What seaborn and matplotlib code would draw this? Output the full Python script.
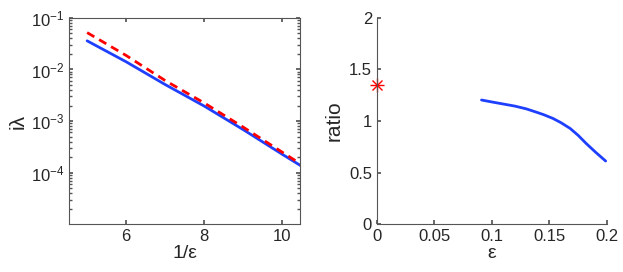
import numpy as np
import pandas as pd
import matplotlib
matplotlib.use("Agg")
import matplotlib.pyplot as plt
import seaborn as sns
from matplotlib.ticker import LogLocator, FixedLocator, NullFormatter

sns.set_theme(style="white")
plt.rcParams['font.family'] = ['Liberation Sans', 'DejaVu Sans']
plt.rcParams['mathtext.fontset'] = 'custom'
plt.rcParams['mathtext.rm'] = 'Liberation Sans'
plt.rcParams['mathtext.it'] = 'Liberation Sans'

# Left panel data
inv_eps = [5, 6, 7, 8, 9, 10, 10.5]
lam_num = [0.036, 0.0141, 0.0051, 0.00195, 6.8e-4, 2.26e-4, 1.32e-4]
lam_asym = [0.052, 0.0187, 0.0061, 0.00224, 7.6e-4, 2.48e-4, 1.42e-4]

# Right panel data
eps = [0.091, 0.100, 0.110, 0.120, 0.130, 0.139, 0.145, 0.153, 0.160, 0.168,
       0.175, 0.182, 0.190, 0.199]
ratio = [1.204, 1.185, 1.165, 1.145, 1.118, 1.085, 1.062, 1.026, 0.985, 0.929,
         0.862, 0.783, 0.700, 0.612]
star_eps = [0.0]
star_ratio = [1.35]

blue = '#1f3fff'
red = '#ff0000'

fig = plt.figure(figsize=(6.23, 2.72), dpi=100)
ax1 = fig.add_axes([0.111, 0.176, 0.371, 0.758])
ax2 = fig.add_axes([0.605, 0.176, 0.369, 0.758])

df1 = pd.DataFrame({'x': inv_eps, 'num': lam_num, 'asym': lam_asym})
sns.lineplot(data=df1, x='x', y='num', ax=ax1, color=blue, lw=2)
sns.lineplot(data=df1, x='x', y='asym', ax=ax1, color=red, lw=2, linestyle=(0, (3, 2)))
ax1.set_yscale('log')
ax1.set_xlim(4.54, 10.46)
ax1.set_ylim(1e-5, 1e-1)
ax1.set_xticks([6, 8, 10])
ax1.yaxis.set_major_locator(FixedLocator([1e-4, 1e-3, 1e-2, 1e-1]))
ax1.yaxis.set_minor_locator(LogLocator(base=10, subs=np.arange(2, 10)))
ax1.yaxis.set_minor_formatter(NullFormatter())
ax1.set_yticklabels([r'$10^{-4}$', r'$10^{-3}$', r'$10^{-2}$', r'$10^{-1}$'])
ax1.set_xlabel('1/ε', fontsize=14, labelpad=1)
ax1.set_ylabel('iλ', fontsize=15, labelpad=2)
for s in ax1.spines.values():
    s.set_color('#555555')
    s.set_linewidth(0.8)
ax1.tick_params(which='both', direction='in', length=3, labelsize=12, color='#555555',
                top=True, right=True, left=True, bottom=True)
ax1.tick_params(which='minor', length=2)

df2 = pd.DataFrame({'eps': eps, 'ratio': ratio})
sns.lineplot(data=df2, x='eps', y='ratio', ax=ax2, color=blue, lw=2)
ax2.plot(star_eps, star_ratio, marker='+', color=red, markersize=10, ls='none',
         clip_on=False, markeredgewidth=1)
ax2.plot(star_eps, star_ratio, marker='x', color=red, markersize=7, ls='none',
         clip_on=False, markeredgewidth=1)
ax2.set_xlim(0, 0.2)
ax2.set_ylim(0, 2)
ax2.set_xticks([0, 0.05, 0.1, 0.15, 0.2])
ax2.set_xticklabels(['0', '0.05', '0.1', '0.15', '0.2'])
ax2.set_yticks([0, 0.5, 1, 1.5, 2])
ax2.set_yticklabels(['0', '0.5', '1', '1.5', '2'])
ax2.set_xlabel('ε', fontsize=14, labelpad=1)
ax2.set_ylabel('ratio', fontsize=15, labelpad=4)
ax2.spines['top'].set_visible(False)
ax2.spines['right'].set_visible(False)
for s in ['left', 'bottom']:
    ax2.spines[s].set_color('#555555')
    ax2.spines[s].set_linewidth(0.8)
ax2.tick_params(which='both', direction='in', length=3, labelsize=12, color='#555555',
                left=True, bottom=True)

fig.savefig('out.png', dpi=100)
